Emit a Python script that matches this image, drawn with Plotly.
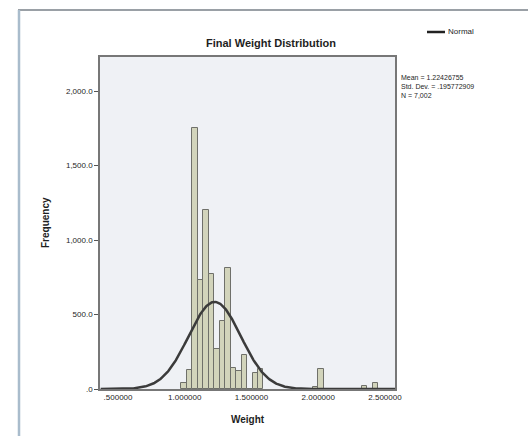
import numpy as np
import plotly.graph_objects as go

# ---- data ----
bin_centers = [0.995, 1.036, 1.077, 1.118, 1.159, 1.200, 1.241, 1.282, 1.323,
               1.364, 1.405, 1.446, 1.487, 1.528, 1.569, 1.979, 2.020, 2.348, 2.430]
frequencies = [40, 125, 1750, 735, 1205, 775, 267, 460, 810,
               143, 120, 227, 0, 108, 133, 15, 133, 20, 40]
bin_width = 0.041
mean_w = 1.22426755
sd_w = 0.195772909
n_obs = 7002
x_tickvals = [0.5, 1.0, 1.5, 2.0, 2.5]
x_ticktext = [".500000", "1.000000", "1.500000", "2.000000", "2.500000"]
y_tickvals = [0, 500, 1000, 1500, 2000]
y_ticktext = [".0", "500.0", "1,000.0", "1,500.0", "2,000.0"]

# normal curve from the stated mean / sd
xc = np.linspace(0.37, 2.575, 400)
yc = n_obs * bin_width * np.exp(-0.5 * ((xc - mean_w) / sd_w) ** 2) / (sd_w * np.sqrt(2 * np.pi))

fig = go.Figure()
fig.add_trace(go.Bar(x=bin_centers, y=frequencies, width=bin_width,
                     marker=dict(color="#d2d4bb", line=dict(color="#6f706a", width=1)),
                     showlegend=False))
fig.add_trace(go.Scatter(x=xc, y=yc, mode="lines", line=dict(color="#3b3b3b", width=2.5),
                         name="Normal", showlegend=False))

FONT = "Liberation Sans, Arial, sans-serif"
TXT = "#1e1e1e"
fig.update_layout(
    width=528, height=436,
    margin=dict(l=100, r=133, t=57, b=47),
    paper_bgcolor="white", plot_bgcolor="#eff1f5",
    bargap=0,
    font=dict(family=FONT, color=TXT),
    xaxis=dict(range=[0.365, 2.575], tickvals=x_tickvals, ticktext=x_ticktext,
               tickfont=dict(size=8, color=TXT), showgrid=False, zeroline=False,
               showline=True, linecolor="#777", linewidth=1.5, mirror=True,
               ticks=""),
    yaxis=dict(range=[0, 2230], tickvals=y_tickvals, ticktext=y_ticktext,
               tickfont=dict(size=8, color=TXT), showgrid=False, zeroline=False,
               showline=True, linecolor="#777", linewidth=1.5, mirror=True,
               ticks="outside", ticklen=4, tickcolor="#555"),
)

def px_x(px):
    return (px - 100) / 295

def px_y(py):
    return (389 - py) / 332

# titles
fig.add_annotation(text="<b>Final Weight Distribution</b>", xref="paper", yref="paper",
                   x=px_x(271), y=px_y(43), xanchor="center", yanchor="middle", showarrow=False,
                   font=dict(size=11, family=FONT, color=TXT))
fig.add_annotation(text="<b>Weight</b>", xref="paper", yref="paper",
                   x=px_x(248), y=px_y(419), xanchor="center", yanchor="middle", showarrow=False,
                   font=dict(size=10, family=FONT, color=TXT))
fig.add_annotation(text="<b>Frequency</b>", xref="paper", yref="paper", textangle=-90,
                   x=px_x(45), y=px_y(223), xanchor="center", yanchor="middle", showarrow=False,
                   font=dict(size=10, family=FONT, color=TXT))
# legend and stats
fig.add_shape(type="line", xref="paper", yref="paper",
              x0=px_x(427), x1=px_x(445), y0=px_y(32), y1=px_y(32),
              line=dict(color="#222", width=2.5))
fig.add_annotation(text="Normal", xref="paper", yref="paper", xanchor="left", yanchor="middle",
                   x=px_x(446), y=px_y(32), showarrow=False,
                   font=dict(size=8, family=FONT, color=TXT))
fig.add_annotation(text="Mean = 1.22426755<br>Std. Dev. = .195772909<br>N = 7,002",
                   xref="paper", yref="paper", xanchor="left", yanchor="top", align="left",
                   x=px_x(399), y=px_y(72), showarrow=False,
                   font=dict(size=7, family=FONT, color=TXT))
# outer frame
fig.add_shape(type="line", xref="paper", yref="paper",
              x0=px_x(18), x1=px_x(528), y0=px_y(10), y1=px_y(10),
              line=dict(color="#9aa0a6", width=2))
fig.add_shape(type="line", xref="paper", yref="paper",
              x0=px_x(19), x1=px_x(19), y0=px_y(10), y1=px_y(436),
              line=dict(color="#a9bccc", width=2.5))

fig.write_html("out.html")
